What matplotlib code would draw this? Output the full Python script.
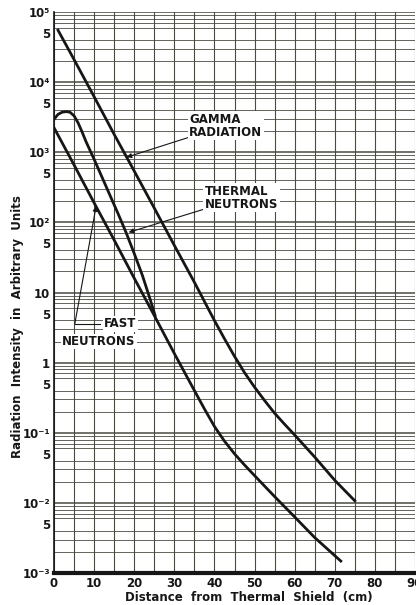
import matplotlib
matplotlib.use("Agg")
import matplotlib.pyplot as plt
from matplotlib.ticker import FixedLocator, LogLocator, NullFormatter

# curves (distance in cm, intensity in arbitrary units)
gamma_x = [1, 5, 10, 15, 20, 25, 30, 35, 40, 42.5, 45, 47.5, 50, 52.5,
           55, 57.5, 60, 65, 70, 75]
gamma_y = [5.5e4, 2.1e4, 6.2e3, 1.8e3, 540, 160, 47, 14, 3.98, 2.19, 1.23,
           0.72, 0.447, 0.288, 0.19, 0.132, 0.093, 0.045, 0.021, 0.0107]

thermal_x = [0, 1, 2, 3, 4, 5, 6, 7, 8, 10, 12, 14, 16, 18, 20, 22, 24, 25.2]
thermal_y = [2950, 3470, 3720, 3800, 3720, 3310, 2630, 1950, 1410, 794,
             437, 240, 132, 71, 36, 17.8, 7.9, 4.7]

fast_x = [0, 5, 10, 15, 20, 25, 30, 35, 37.5, 40, 42.5, 45, 47.5, 50,
          55, 60, 65, 71.5]
fast_y = [2240, 660, 190, 56, 16, 4.7, 1.35, 0.40, 0.219, 0.123, 0.0759,
          0.0501, 0.0347, 0.0245, 0.0123, 0.0063, 0.0032, 0.00148]

x_ticks = [0, 10, 20, 30, 40, 50, 60, 70, 80, 90]
y_ticks = [1e5, 5e4, 1e4, 5e3, 1e3, 5e2, 1e2, 50, 10, 5, 1, 0.5,
           0.1, 0.05, 0.01, 0.005, 0.001]
y_labels = ["10⁵", "5", "10⁴", "5", "10³", "5", "10²", "5", "10", "5",
            "1", "5", "10⁻¹", "5", "10⁻²", "5", "10⁻³"]

ink = "#161616"
grid_col = "#4a4a40"

fig = plt.figure(figsize=(4.16, 6.05), dpi=100)
fig.patch.set_facecolor("white")
ax = fig.add_axes([54 / 416, 32 / 605, 361 / 416, 561 / 605])

ax.set_yscale("log")
ax.set_xlim(0, 90)
ax.set_ylim(1e-3, 1e5)

# graph paper
ax.xaxis.set_major_locator(FixedLocator(x_ticks))
ax.xaxis.set_minor_locator(FixedLocator(list(range(5, 90, 10))))
ax.yaxis.set_major_locator(FixedLocator(y_ticks))
ax.yaxis.set_minor_locator(LogLocator(base=10, subs=range(2, 10), numticks=20))
ax.yaxis.set_minor_formatter(NullFormatter())
ax.set_yticklabels(y_labels)
ax.grid(which="major", axis="x", color=grid_col, lw=0.8)
ax.grid(which="minor", axis="x", color=grid_col, lw=0.8)
ax.grid(which="minor", axis="y", color=grid_col, lw=0.6)
for v in [1e5, 1e4, 1e3, 1e2, 10, 1, 0.1, 0.01]:
    ax.axhline(v, color=grid_col, lw=1.1, zorder=0.5)
ax.tick_params(which="both", length=0)
ax.tick_params(axis="x", pad=3)
ax.tick_params(axis="y", pad=3)
for lab in ax.get_xticklabels() + ax.get_yticklabels():
    lab.set_fontsize(8.5)
    lab.set_fontweight("bold")
    lab.set_color(ink)

for s in ["top", "right"]:
    ax.spines[s].set_visible(False)
ax.spines["left"].set_linewidth(1.2)
ax.spines["bottom"].set_linewidth(3)
ax.spines["left"].set_color(ink)
ax.spines["bottom"].set_color(ink)

# curves
ax.plot(gamma_x, gamma_y, color=ink, lw=2.0, zorder=3)
ax.plot(thermal_x, thermal_y, color=ink, lw=2.0, zorder=3)
ax.plot(fast_x, fast_y, color=ink, lw=2.0, zorder=3)

# labels with leader lines
box = dict(facecolor="white", edgecolor="none", pad=1.0)
txt = dict(fontsize=8.5, fontweight="bold", color=ink, linespacing=1.0)
arr = dict(arrowstyle="-|>", color=ink, lw=0.8, mutation_scale=7,
           shrinkA=0, shrinkB=0)

ax.annotate("GAMMA\nRADIATION", xy=(18.1, 850), xytext=(33.7, 2400),
            ha="left", va="center", bbox=box, arrowprops=arr, **txt)
ax.annotate("THERMAL\nNEUTRONS", xy=(18.6, 72), xytext=(37.6, 225),
            ha="left", va="center", bbox=box, arrowprops=arr, **txt)
ax.annotate("", xy=(10.5, 170), xytext=(5.2, 3.6), arrowprops=arr)
ax.plot([5.2, 11.5], [3.6, 3.6], color=ink, lw=0.8, zorder=2)
ax.text(20.6, 3.6, "FAST", ha="right", va="center", bbox=box, **txt)
ax.text(20.3, 2.0, "NEUTRONS", ha="right", va="center", bbox=box, **txt)

fig.text(18 / 416, 1 - 327 / 605, "Radiation  Intensity  in  Arbitrary  Units",
         rotation=90, ha="center", va="center", fontsize=8.5,
         fontweight="bold", color=ink)
fig.text(249 / 416, 1 - 598 / 605, "Distance  from  Thermal  Shield  (cm)",
         ha="center", va="center", fontsize=8.5, fontweight="bold", color=ink)

fig.savefig("out.png", dpi=100)
